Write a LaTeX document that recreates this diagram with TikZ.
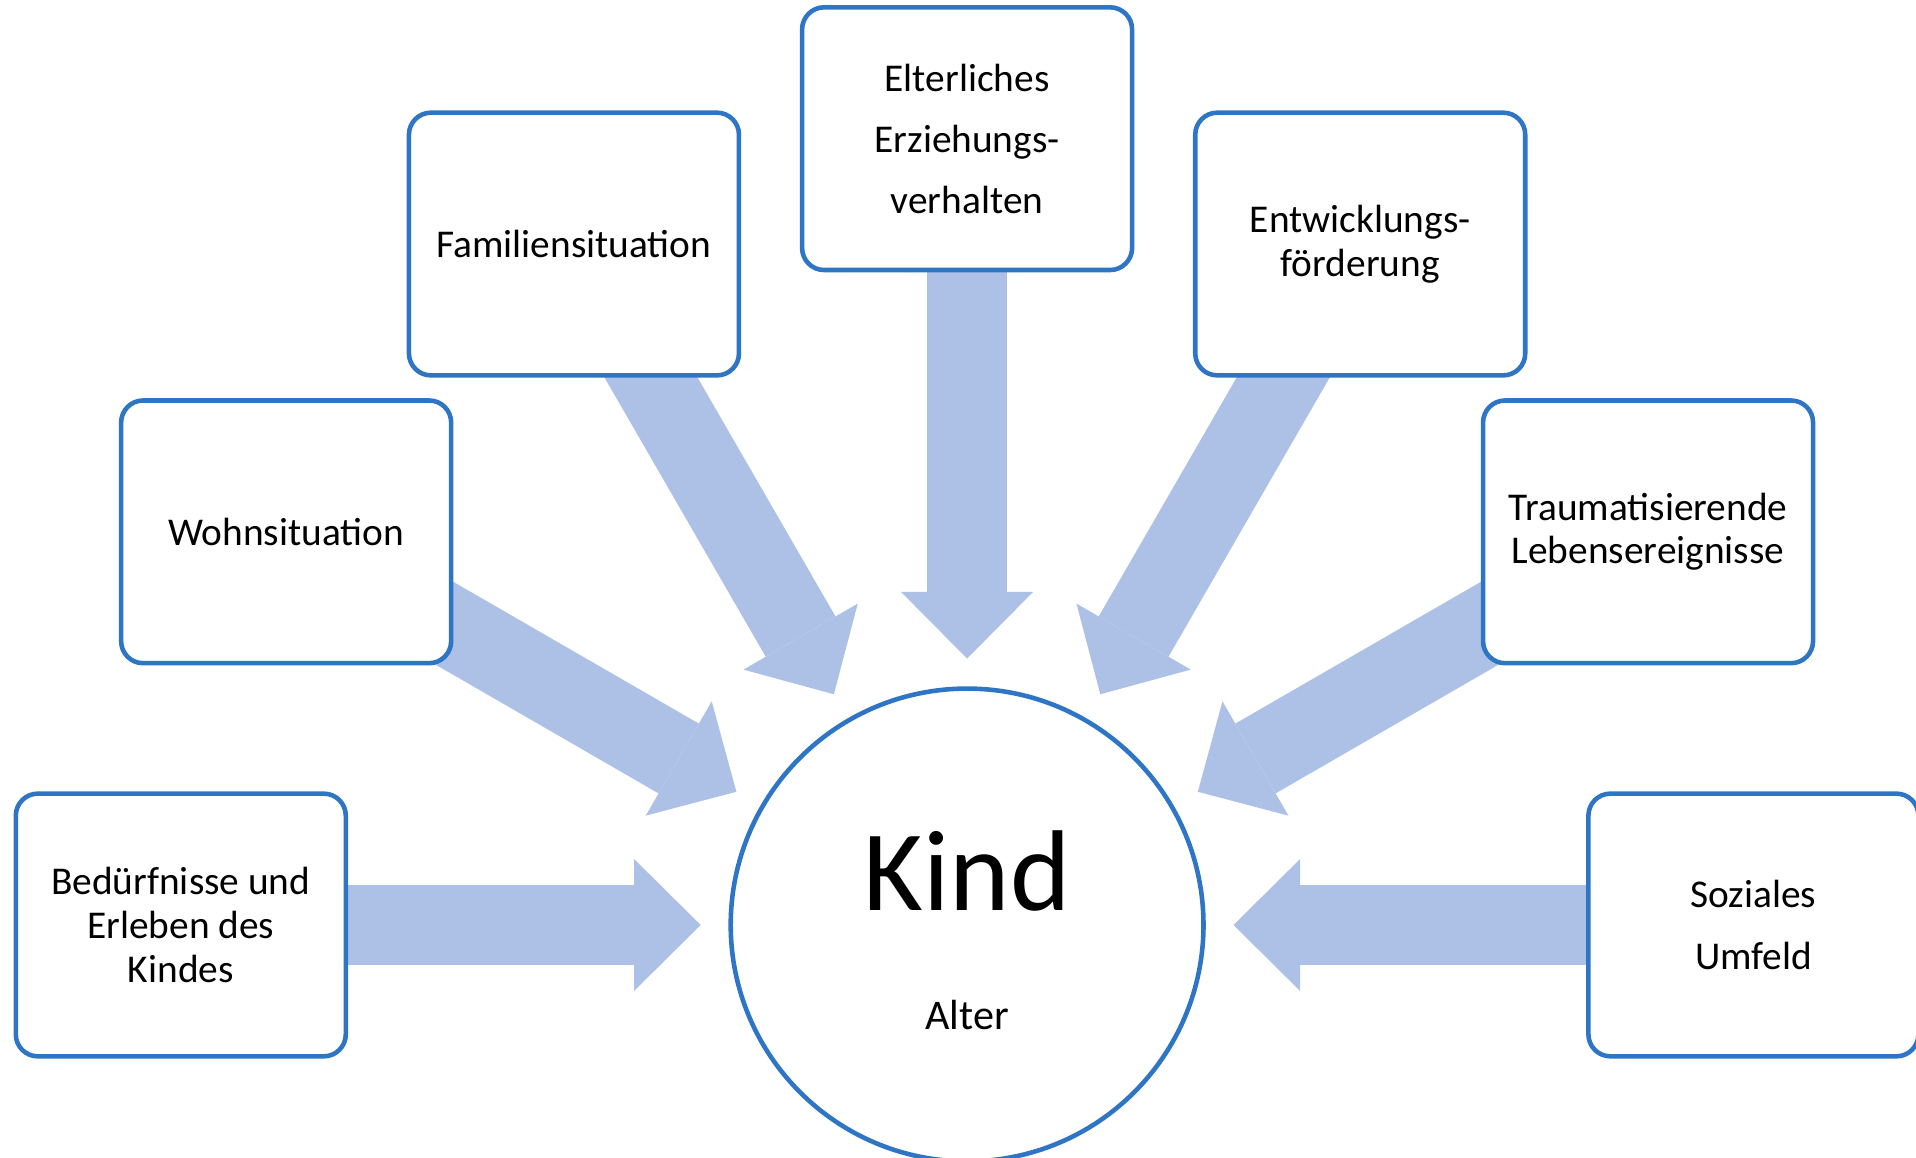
\documentclass[tikz,border=0pt]{standalone}
\usepackage{fontspec}
\setmainfont{Carlito}
\usetikzlibrary{arrows.meta,backgrounds,calc}
\definecolor{boxblue}{RGB}{46,117,198}
\definecolor{arrowblue}{RGB}{173,193,231}
\begin{document}
\begin{tikzpicture}[
  box/.style={draw=boxblue, line width=1.3pt, rounded corners=0.22cm, fill=white,
    minimum width=3.30cm, minimum height=2.627cm, align=center, inner sep=0pt,
    font=\fontsize{11.2}{12.4}\selectfont},
  widebox/.style={box, font=\fontsize{11.2}{17.4}\selectfont},
  bigarrow/.style={draw=arrowblue, line width=0.806cm,
    -{Triangle[length=0.666cm, width=1.32cm, line width=0pt]}}
]
\useasboundingbox (0,0) rectangle (19.16,11.58);
\node[circle, draw=boxblue, line width=1.3pt, fill=white, minimum size=4.728cm, inner sep=0pt] (K) at (9.671,2.33) {};
\node[anchor=base, font=\fontsize{32.7}{36}\selectfont] (kind) at ($(K.center)+(0,0.147)$) {Kind};
\node[anchor=base, font=\fontsize{12}{14}\selectfont] (alter) at ($(K.center)+(0,-1.05)$) {Alter};

\node[box] (b1) at ($(K.center)+(180:7.863)$) {Bedürfnisse und\\Erleben des\\Kindes};
\node[box] (b2) at ($(K.center)+(150:7.863)$) {Wohnsituation};
\node[box] (b3) at ($(K.center)+(120:7.863)$) {Familiensituation};
\node[widebox] (b4) at ($(K.center)+(90:7.863)$) {Elterliches\\Erziehungs-\\verhalten};
\node[box] (b5) at ($(K.center)+(60:7.863)$) {Entwicklungs-\\förderung};
\node[box] (b6) at ($(K.center)+(30:7.863)$) {Traumatisierende\\Lebensereignisse};
\node[widebox] (b7) at ($(K.center)+(0:7.863)$) {Soziales\\Umfeld};

\begin{scope}[on background layer]
\foreach \i in {1,...,7}
  \draw[bigarrow] (b\i.center) -- ($(K.center)!2.664cm!(b\i.center)$);
\end{scope}
\end{tikzpicture}
\end{document}
